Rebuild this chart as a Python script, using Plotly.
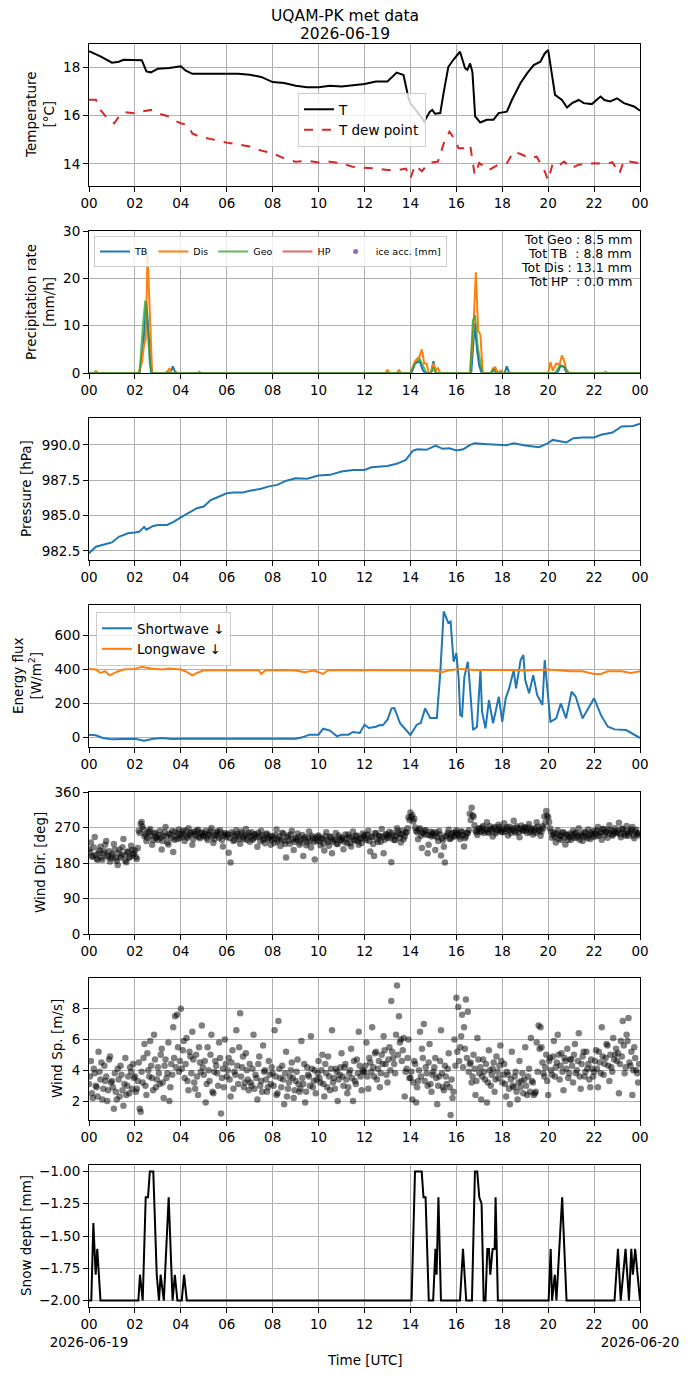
import numpy as np
import plotly.graph_objects as go

# Temperature [degC]
temp_t = [0, 0.5, 1.0, 1.3, 1.5, 2.0, 2.3, 2.5, 2.7, 3.0, 3.5, 4.0, 4.2, 4.5, 5.0, 5.5, 6.0, 6.5, 7.0, 7.5,
          8.0, 8.5, 9.0, 9.5, 10.0, 10.5, 11.0, 11.5, 12.0, 12.5, 13.0, 13.4, 13.7, 13.9, 14.0, 14.4, 14.6,
          14.85, 14.95, 15.07, 15.3, 15.43, 15.65, 15.87, 16.16, 16.38, 16.48, 16.6, 16.7, 16.82, 17.04,
          17.33, 17.62, 17.84, 18.2, 18.42, 18.79, 19.08, 19.37, 19.66, 19.85, 20.0, 20.17, 20.3, 20.6,
          20.82, 21.04, 21.33, 21.55, 21.9, 22.28, 22.45, 22.7, 23.0, 23.3, 23.74, 24.0]
temp = [18.65, 18.44, 18.18, 18.22, 18.3, 18.28, 18.28, 17.82, 17.78, 17.93, 17.96, 18.03, 17.86, 17.72,
        17.72, 17.75, 17.75, 17.72, 17.68, 17.59, 17.38, 17.34, 17.23, 17.17, 17.17, 17.23, 17.2, 17.24,
        17.3, 17.4, 17.4, 17.77, 17.67, 16.78, 16.5, 16.03, 15.75, 16.16, 16.23, 16.07, 16.1, 16.85, 18.0,
        18.3, 18.63, 17.95, 17.88, 18.15, 17.8, 15.96, 15.71, 15.82, 15.82, 16.1, 16.16, 16.64, 17.33,
        17.74, 18.08, 18.22, 18.56, 18.7, 17.6, 16.85, 16.64, 16.33, 16.51, 16.64, 16.51, 16.47, 16.78,
        16.64, 16.58, 16.71, 16.51, 16.37, 16.2]
dew_t = [0, 0.3, 0.5, 0.8, 1.1, 1.3, 1.5, 2.0, 2.3, 2.7, 3.0, 3.5, 3.8, 4.0, 4.3, 4.5, 4.8, 5.2, 5.5, 6.0,
         6.5, 7.0, 7.5, 8.0, 8.5, 9.0, 9.5, 10.0, 10.5, 11.0, 11.5, 12.0, 12.5, 13.0, 13.5, 13.8, 14.0, 14.2,
         14.5, 14.8, 15.2, 15.5, 15.7, 15.9, 16.1, 16.3, 16.6, 16.8, 17.0, 17.4, 17.8, 18.2, 18.5, 18.8,
         19.2, 19.5, 19.8, 20.0, 20.2, 20.5, 20.7, 21.0, 21.3, 21.6, 22.0, 22.5, 22.8, 23.1, 23.3, 23.6, 24.0]
dew = [16.65, 16.65, 16.23, 15.88, 15.68, 15.95, 16.14, 16.09, 16.16, 16.23, 16.09, 15.95, 15.76, 15.68,
       15.6, 15.26, 15.13, 15.06, 14.99, 14.88, 14.79, 14.72, 14.55, 14.44, 14.23, 14.09, 14.13, 14.06,
       14.09, 14.02, 13.88, 13.86, 13.81, 13.75, 13.75, 13.81, 13.4, 13.95, 13.7, 14.04, 14.1, 14.99, 15.33,
       15.06, 14.65, 14.65, 14.79, 13.55, 14.04, 13.74, 13.96, 14.03, 14.51, 14.41, 14.23, 14.3, 13.81,
       13.33, 14.03, 13.96, 14.1, 13.81, 13.96, 14.0, 14.03, 14.0, 14.07, 13.6, 14.13, 14.09, 14.03]

# Precipitation rate [mm/h]
tb_t = [0, 2.2, 2.35, 2.5, 2.6, 2.7, 3.55, 3.65, 3.75, 3.85, 14.05, 14.2, 14.4, 14.55, 14.65, 14.9, 15.0,
        15.1, 16.65, 16.8, 16.9, 17.0, 17.1, 17.55, 17.65, 17.75, 18.1, 18.2, 18.3, 20.4, 20.55, 20.7, 20.8, 24.0]
tb = [0, 0, 5, 15, 8, 0, 0, 1.4, 0.3, 0, 0, 2, 2.5, 0.5, 0, 0, 2.5, 0, 0, 10.5, 5, 1.5, 0, 0, 1.2, 0, 0,
      1.4, 0, 0, 1.6, 1.2, 0, 0]
dis_t = [0, 0.2, 0.3, 0.4, 2.15, 2.3, 2.4, 2.47, 2.55, 2.65, 2.75, 3.4, 3.5, 3.6, 4.7, 4.8, 4.9, 12.9, 13.0,
         13.1, 13.4, 13.5, 13.6, 14.0, 14.2, 14.4, 14.5, 14.6, 14.7, 14.8, 14.9, 15.0, 15.1, 15.2, 15.3, 16.6,
         16.75, 16.85, 16.95, 17.05, 17.15, 17.5, 17.6, 17.7, 17.8, 17.95, 18.05, 20.0, 20.1, 20.2, 20.35,
         20.5, 20.6, 20.7, 20.8, 20.9, 22.4, 22.5, 22.6, 24.0]
dis = [0, 0, 0.4, 0, 0, 2, 6, 7, 25, 12, 0, 0, 1, 0, 0, 0.3, 0, 0, 0.6, 0, 0, 0.6, 0, 0, 2.5, 3.5, 5, 2, 2,
       0, 0, 2, 0.5, 1, 0, 0, 10, 21.3, 9, 8, 0, 0, 1, 1.2, 0, 0.5, 0, 0, 2.3, 0.5, 2, 1.8, 3.7, 2.5, 0.5,
       0, 0, 0.3, 0, 0]
geo_t = [0, 2.2, 2.35, 2.45, 2.55, 2.65, 2.75, 3.3, 3.4, 3.5, 14.0, 14.2, 14.4, 14.6, 14.7, 14.9, 15.0, 15.1,
         16.6, 16.72, 16.82, 16.92, 17.05, 17.15, 17.5, 17.6, 17.7, 20.3, 20.5, 20.7, 20.9, 24.0]
geo = [0, 0, 10, 15.3, 10, 2, 0, 0, 0.3, 0, 0, 2, 3, 1, 0, 0, 1.2, 0, 0, 11, 12.2, 6, 2, 0, 0, 0.7, 0, 0,
       1.5, 1.4, 0, 0]
totals = [("Geo", "8.5"), ("TB\u00a0", "8.8"), ("Dis", "13.1"), ("HP\u00a0", "0.0")]

# Pressure [hPa]
pres_t = [0, 0.3, 0.7, 1.0, 1.3, 1.7, 2.0, 2.2, 2.4, 2.5, 2.8, 3.0, 3.4, 3.7, 4.0, 4.3, 4.7, 5.0, 5.3, 5.6,
          6.0, 6.3, 6.7, 7.0, 7.5, 7.8, 8.2, 8.6, 9.0, 9.5, 10.0, 10.5, 11.0, 11.5, 12.0, 12.3, 13.0, 13.4,
          13.8, 14.1, 14.3, 14.7, 15.1, 15.4, 15.7, 16.0, 16.3, 16.6, 16.8, 17.2, 17.8, 18.2, 18.5, 19.0,
          19.6, 20.0, 20.2, 20.8, 21.1, 21.5, 22.0, 22.3, 22.8, 23.2, 23.7, 24.0]
pres = [982.34, 982.8, 982.97, 983.1, 983.5, 983.75, 983.8, 983.87, 984.2, 984.0, 984.27, 984.34, 984.34,
        984.57, 984.88, 985.16, 985.52, 985.64, 986.1, 986.3, 986.58, 986.63, 986.63, 986.75, 986.9, 987.05,
        987.17, 987.47, 987.64, 987.6, 987.83, 987.88, 988.11, 988.23, 988.23, 988.42, 988.51, 988.66,
        988.94, 989.58, 989.69, 989.65, 989.95, 989.72, 989.76, 989.6, 989.69, 990.0, 990.12, 990.07,
        990.02, 989.98, 990.12, 989.95, 989.83, 990.12, 990.35, 990.17, 990.47, 990.52, 990.52, 990.71,
        990.87, 991.3, 991.34, 991.49]

# Radiation [W/m2]
sw_t = [0, 0.3, 0.6, 1.0, 2.0, 2.4, 2.8, 3.2, 3.6, 4.0, 5.0, 6.0, 7.0, 8.0, 9.0, 9.3, 9.6, 10.0, 10.1, 10.2,
        10.5, 10.8, 11.0, 11.3, 11.5, 11.8, 12.0, 12.2, 12.5, 12.67, 12.8, 13.0, 13.18, 13.3, 13.55, 13.8,
        14.0, 14.27, 14.45, 14.64, 14.86, 15.15, 15.3, 15.45, 15.55, 15.65, 15.75, 15.88, 16.0, 16.1, 16.17,
        16.25, 16.35, 16.5, 16.58, 16.73, 16.9, 17.05, 17.12, 17.27, 17.42, 17.6, 17.85, 18.0, 18.15, 18.3,
        18.5, 18.6, 18.8, 18.92, 19.0, 19.17, 19.35, 19.52, 19.75, 19.85, 19.97, 20.1, 20.35, 20.55, 20.78,
        21.02, 21.2, 21.5, 22.0, 22.3, 22.6, 22.9, 23.4, 23.77, 24.0]
sw = [16, 12, -4, -12, -8, -20, -8, -4, -10, -8, -8, -8, -10, -10, -8, 0, 16, 16, 35, 51, 40, 6, 16, 16, 32,
      26, 75, 55, 63, 73, 71, 104, 171, 173, 83, 45, 14, 73, 85, 171, 114, 114, 380, 743, 704, 675, 684,
      446, 497, 350, 131, 124, 357, 446, 320, 43, 63, 397, 151, 53, 220, 83, 240, 92, 230, 289, 397, 289,
      456, 486, 338, 260, 367, 250, 191, 456, 279, 92, 112, 200, 112, 269, 240, 112, 230, 131, 63, 47, 43,
      14, -4]
lw_t = [0, 0.3, 0.5, 0.7, 0.9, 1.2, 1.5, 2.0, 2.3, 2.7, 3.2, 3.5, 4.0, 4.2, 4.5, 4.7, 5.0, 5.5, 6.0, 6.5,
        7.0, 7.4, 7.5, 7.7, 8.5, 9.0, 9.4, 9.8, 10.2, 10.4, 11.0, 12.0, 13.0, 14.0, 14.2, 15.0, 15.4, 15.7,
        16.2, 16.8, 18.0, 19.0, 20.0, 21.0, 21.5, 22.0, 22.3, 22.6, 23.2, 23.6, 24.0]
lw = [404, 400, 380, 390, 366, 386, 400, 404, 416, 406, 400, 406, 400, 390, 366, 380, 396, 396, 400, 396,
      400, 396, 374, 396, 398, 394, 384, 394, 374, 396, 398, 398, 398, 398, 396, 394, 386, 396, 404, 398,
      398, 394, 400, 390, 390, 374, 374, 390, 390, 380, 390]

# Wind, 5-min samples on the hour grid (one row per hour)
wind_dir = [
    215, 232, 198, 246, 190, 205, 221, 188, 210, 236, 196, 184,
    203, 228, 192, 175, 214, 199, 241, 186, 208, 193, 224, 201,
    212, 190, 262, 279, 272, 248, 236, 258, 266, 226, 254, 243,
    238, 262, 214, 249, 271, 232, 255, 244, 208, 259, 240, 265,
    252, 261, 236, 247, 268, 255, 226, 259, 249, 264, 243, 257,
    248, 262, 238, 255, 269, 231, 251, 260, 244, 257, 222, 252,
    246, 206, 181, 252, 238, 263, 247, 229, 255, 241, 266, 250,
    234, 258, 243, 252, 221, 247, 262, 238, 230, 255, 244, 226,
    248, 231, 265, 240, 223, 257, 236, 194, 250, 229, 262, 213,
    243, 255, 226, 239, 198, 246, 232, 260, 219, 244, 189, 236,
    250, 225, 241, 212, 258, 233, 247, 205, 238, 256, 228, 244,
    239, 215, 252, 230, 246, 222, 260, 237, 249, 226, 241, 255,
    251, 238, 262, 209, 245, 198, 256, 233, 248, 266, 205, 252,
    244, 259, 182, 250, 238, 268, 254, 232, 262, 247, 258, 296,
    308, 301, 292, 262, 240, 268, 218, 254, 263, 205, 251, 247,
    258, 213, 245, 261, 199, 237, 181, 250, 264, 242, 256, 248,
    263, 252, 241, 259, 222, 247, 256, 305, 320, 297, 262, 251,
    268, 259, 274, 262, 283, 256, 266, 247, 271, 260, 277, 264,
    258, 281, 266, 250, 272, 263, 287, 257, 269, 245, 275, 262,
    270, 256, 279, 264, 252, 268, 283, 261, 249, 273, 298, 312,
    296, 268, 244, 257, 232, 263, 249, 238, 258, 227, 251, 246,
    239, 262, 255, 244, 268, 250, 236, 259, 247, 265, 241, 253,
    262, 248, 271, 255, 239, 266, 258, 244, 276, 261, 252, 268,
    257, 282, 245, 266, 253, 274, 249, 260, 271, 243, 264, 255,
]
wind_sp = [
    3.1, 4.6, 2.2, 3.8, 2.9, 5.2, 3.4, 2.1, 4.3, 3.6, 2.7, 4.9,
    3.3, 1.5, 2.6, 4.1, 2.3, 3.7, 1.7, 4.8, 3.0, 2.5, 3.9, 4.4,
    3.6, 2.8, 4.5, 1.3, 3.2, 5.7, 2.4, 4.0, 5.9, 3.5, 6.3, 2.9,
    4.2, 3.1, 5.4, 2.2, 4.7, 3.8, 2.0, 4.4, 6.8, 7.5, 7.6, 3.9,
    8.0, 5.3, 3.5, 6.1, 2.7, 4.9, 6.5, 3.2, 5.0, 2.4, 4.5, 6.9,
    3.7, 1.9, 5.5, 3.3, 6.3, 2.5, 4.6, 3.8, 5.8, 1.2, 4.1, 6.0,
    3.6, 4.8, 2.3, 5.3, 3.9, 6.6, 3.1, 7.7, 4.2, 2.9, 5.1, 3.4,
    4.4, 3.0, 6.3, 3.7, 2.1, 4.9, 3.3, 5.6, 4.0, 2.6, 4.6, 3.1,
    3.8, 6.6, 2.4, 7.2, 3.5, 4.3, 1.8, 5.2, 2.8, 3.6, 4.5, 2.2,
    3.3, 4.7, 2.6, 5.9, 3.1, 1.9, 4.2, 3.6, 6.2, 2.9, 4.0, 3.4,
    4.6, 3.2, 5.0, 2.3, 3.8, 4.9, 2.7, 6.6, 3.5, 4.1, 2.0, 3.7,
    5.1, 3.0, 4.4, 2.5, 3.8, 5.4, 2.0, 3.3, 4.7, 6.5, 3.6, 4.0,
    3.9, 5.8, 2.8, 4.5, 6.8, 3.6, 5.2, 4.1, 2.9, 5.0, 6.2, 4.4,
    3.2, 5.5, 8.5, 4.8, 3.8, 9.5, 7.5, 6.0, 5.3, 2.3, 4.1, 6.0,
    3.5, 2.1, 4.6, 1.9, 3.3, 6.5, 5.4, 7.0, 4.2, 3.0, 5.7, 2.6,
    3.9, 4.8, 1.8, 3.6, 6.6, 2.9, 4.3, 3.1, 5.1, 1.1, 2.2, 6.0,
    8.7, 8.1, 5.5, 7.6, 6.8, 8.6, 7.8, 4.4, 3.2, 5.0, 2.4, 6.1,
    3.8, 2.1, 4.7, 3.4, 1.9, 5.3, 3.0, 4.1, 2.6, 4.9, 3.5, 5.6,
    3.2, 4.4, 2.3, 3.7, 1.8, 5.2, 2.9, 3.9, 2.1, 4.6, 3.3, 2.5,
    5.5, 2.4, 4.1, 6.1, 3.2, 2.5, 5.8, 6.9, 6.8, 4.5, 3.6, 5.0,
    2.4, 4.8, 3.7, 5.9, 4.2, 6.3, 3.4, 5.1, 2.7, 4.6, 5.4, 3.8,
    4.7, 3.2, 5.7, 4.0, 6.4, 2.8, 4.9, 3.6, 5.2, 4.4, 2.9, 4.1,
    3.9, 5.3, 2.9, 4.5, 6.8, 3.7, 4.8, 5.6, 3.3, 4.2, 6.1, 5.0,
    4.6, 2.5, 5.9, 7.2, 3.8, 6.3, 7.4, 4.3, 2.4, 5.5, 4.0, 3.2,
]
# Wind, samples taken 2.5 min after the ones above
wind_dir_b = [
    207, 196, 219, 201, 188, 212, 194, 205, 226, 199, 210, 192,
    198, 214, 186, 205, 193, 220, 201, 182, 209, 196, 213, 204,
    195, 218, 256, 284, 265, 252, 244, 261, 249, 238, 257, 246,
    251, 244, 236, 258, 247, 227, 252, 261, 239, 248, 255, 243,
    247, 255, 262, 244, 251, 258, 240, 253, 262, 246, 256, 250,
    255, 244, 251, 261, 247, 240, 257, 250, 263, 238, 249, 256,
    252, 243, 258, 236, 249, 254, 241, 260, 245, 251, 239, 256,
    247, 239, 253, 246, 257, 235, 250, 243, 252, 240, 249, 238,
    242, 251, 235, 247, 239, 254, 228, 245, 237, 252, 241, 233,
    238, 246, 232, 251, 240, 225, 244, 236, 249, 233, 242, 247,
    236, 243, 229, 248, 238, 224, 246, 234, 240, 228, 250, 237,
    244, 233, 241, 252, 230, 245, 238, 249, 235, 243, 231, 247,
    243, 252, 236, 247, 228, 255, 240, 249, 234, 246, 239, 253,
    250, 243, 256, 238, 249, 261, 244, 253, 240, 257, 268, 289,
    296, 285, 270, 258, 264, 249, 257, 262, 251, 226, 259, 254,
    249, 257, 236, 252, 243, 221, 248, 256, 241, 253, 247, 258,
    254, 247, 260, 251, 243, 256, 263, 289, 301, 276, 258, 266,
    261, 270, 256, 266, 259, 273, 262, 268, 255, 264, 271, 259,
    266, 259, 271, 263, 256, 268, 261, 273, 258, 266, 262, 270,
    263, 270, 258, 267, 261, 256, 272, 264, 259, 268, 282, 300,
    284, 259, 252, 246, 255, 241, 250, 257, 244, 252, 238, 255,
    250, 244, 257, 249, 239, 254, 247, 256, 243, 251, 258, 246,
    255, 262, 249, 258, 266, 251, 259, 264, 254, 249, 261, 257,
    262, 253, 267, 258, 249, 261, 256, 265, 250, 259, 254, 250,
]
wind_sp_b = [
    3.6, 2.5, 4.1, 3.0, 2.3, 3.9, 4.5, 2.8, 3.3, 2.0, 4.7, 3.2,
    2.9, 3.8, 2.1, 3.4, 4.3, 2.7, 3.1, 2.4, 3.6, 4.2, 2.8, 3.5,
    2.6, 3.3, 1.5, 3.9, 4.8, 3.0, 5.1, 3.6, 4.3, 2.7, 4.7, 3.4,
    3.8, 5.0, 3.2, 4.3, 3.5, 5.8, 2.9, 3.7, 4.8, 4.2, 5.5, 4.6,
    4.1, 5.9, 4.4, 3.3, 5.2, 3.8, 4.7, 2.8, 3.6, 5.5, 3.9, 4.2,
    4.6, 3.1, 4.0, 5.0, 2.6, 3.9, 4.3, 3.0, 4.8, 3.5, 2.9, 4.4,
    4.0, 3.4, 4.5, 2.8, 3.7, 4.3, 5.5, 3.6, 4.9, 3.2, 4.0, 2.7,
    3.2, 4.1, 2.8, 3.5, 4.4, 3.0, 2.6, 3.9, 3.4, 2.9, 3.7, 4.2,
    3.0, 3.6, 2.5, 4.1, 2.9, 3.4, 3.8, 2.3, 3.2, 4.0, 3.5, 2.7,
    3.9, 3.1, 2.8, 3.5, 4.4, 2.6, 3.7, 3.0, 4.1, 3.3, 2.5, 3.8,
    3.5, 4.0, 3.1, 4.4, 2.9, 3.6, 4.1, 3.2, 2.8, 3.9, 3.4, 4.2,
    3.6, 4.2, 3.4, 2.9, 4.0, 3.5, 4.6, 3.1, 3.8, 4.3, 2.7, 3.9,
    4.3, 3.6, 4.8, 3.9, 4.2, 5.1, 3.4, 4.6, 3.8, 4.4, 5.3, 3.7,
    4.7, 4.0, 5.2, 4.4, 6.3, 5.0, 5.8, 4.6, 6.1, 3.9, 4.8, 3.5,
    3.9, 3.2, 4.4, 2.9, 4.0, 3.6, 4.8, 3.3, 3.8, 4.5, 3.1, 3.7,
    4.2, 3.5, 3.0, 4.6, 3.8, 2.7, 3.6, 4.1, 2.9, 3.4, 2.6, 4.3,
    5.2, 4.6, 6.2, 4.2, 5.4, 4.8, 3.9, 4.5, 3.6, 4.1, 3.3, 4.7,
    4.2, 3.6, 3.9, 4.4, 3.2, 4.0, 3.7, 4.5, 3.4, 3.9, 4.3, 4.6,
    3.7, 3.1, 3.9, 2.8, 3.4, 3.0, 3.6, 2.6, 3.2, 2.9, 3.8, 3.4,
    3.0, 3.6, 2.6, 3.3, 2.4, 2.6, 3.9, 5.4, 5.5, 3.8, 4.2, 3.3,
    4.6, 4.0, 4.9, 3.6, 4.5, 5.0, 4.3, 3.9, 4.8, 4.1, 3.5, 4.7,
    4.3, 5.0, 3.8, 4.6, 3.6, 4.4, 5.2, 3.9, 4.1, 3.4, 4.7, 3.6,
    4.6, 4.1, 5.2, 3.8, 4.9, 4.4, 5.7, 4.3, 5.0, 3.9, 4.7, 5.4,
    5.1, 4.4, 4.9, 5.6, 4.2, 5.9, 4.5, 5.2, 4.0, 4.8, 3.8, 4.4,
]
wind_t = np.arange(len(wind_dir)) / 12.0
wind_t_b = wind_t + 2.5 / 60.0

# Snow depth [mm]
snow_t = [0, 0.1, 0.19, 0.29, 0.36, 0.5, 2.15, 2.22, 2.34, 2.47, 2.57, 2.65, 2.8, 2.95, 3.05, 3.12, 3.26,
          3.47, 3.64, 3.74, 3.85, 4.04, 4.14, 4.26, 14.05, 14.2, 14.49, 14.57, 14.66, 14.8, 14.99, 15.09,
          15.14, 15.22, 15.33, 16.16, 16.29, 16.43, 16.68, 16.81, 16.91, 17.0, 17.1, 17.19, 17.27, 17.35,
          17.42, 17.48, 17.58, 17.67, 17.71, 17.81, 20.02, 20.11, 20.17, 20.29, 20.36, 20.61, 20.8, 22.89,
          23.04, 23.16, 23.37, 23.52, 23.62, 23.69, 23.79, 24.0]
snow = [-2.0, -2.0, -1.4, -1.8, -1.6, -2.0, -2.0, -1.8, -2.0, -1.2, -1.2, -1.0, -1.0, -1.8, -2.0, -1.8,
        -2.0, -1.2, -2.0, -1.8, -2.0, -2.0, -1.8, -2.0, -2.0, -1.0, -1.0, -1.2, -1.2, -2.0, -2.0, -1.6,
        -1.8, -1.2, -2.0, -2.0, -1.6, -2.0, -2.0, -1.0, -1.0, -1.2, -1.25, -2.0, -2.0, -1.6, -1.6, -1.8,
        -1.6, -1.6, -1.2, -2.0, -2.0, -1.6, -2.0, -1.8, -2.0, -1.2, -2.0, -2.0, -1.6, -2.0, -1.6, -2.0,
        -1.6, -1.8, -1.6, -2.0]

hour_ticks = list(range(0, 25, 2))
hour_text = ["%02d" % (h % 24) for h in hour_ticks]

FONT = "DejaVu Sans"
W, H = 690, 1377
L, R, T, B = 89, 640, 44, 1307


def px_x(x):
    return (x - L) / (R - L)


def px_y(y):
    return (B - y) / (B - T)


# (top, bottom) of each panel in pixels
panels = [(44, 186), (231, 373), (418, 560), (605, 747), (792, 934), (978, 1120), (1165, 1307)]

fig = go.Figure()

line_w = 2
fig.add_trace(go.Scatter(x=temp_t, y=temp, mode="lines", name="T",
                         line=dict(color="black", width=line_w), xaxis="x", yaxis="y"))
fig.add_trace(go.Scatter(x=dew_t, y=dew, mode="lines", name="T dew point",
                         line=dict(color="#d62728", width=line_w, dash="dash"), xaxis="x", yaxis="y"))

for name, xs, ys, col in [("TB", tb_t, tb, "#1f77b4"), ("Dis", dis_t, dis, "#ff7f0e"),
                          ("Geo", geo_t, geo, "rgba(44,160,44,0.75)")]:
    fig.add_trace(go.Scatter(x=xs, y=ys, mode="lines", name=name, legend="legend2",
                             line=dict(color=col, width=line_w), xaxis="x2", yaxis="y2"))
fig.add_trace(go.Scatter(x=[None], y=[None], mode="lines", name="HP", legend="legend2",
                         line=dict(color="rgba(214,39,40,0.7)", width=line_w), xaxis="x2", yaxis="y2"))
fig.add_trace(go.Scatter(x=[None], y=[None], mode="markers", name="ice acc. [mm]", legend="legend2",
                         marker=dict(color="#9467bd", size=5), xaxis="x2", yaxis="y2"))

fig.add_trace(go.Scatter(x=pres_t, y=pres, mode="lines", showlegend=False,
                         line=dict(color="#1f77b4", width=line_w), xaxis="x3", yaxis="y3"))

fig.add_trace(go.Scatter(x=sw_t, y=sw, mode="lines", name="Shortwave \u2193", legend="legend3",
                         line=dict(color="#1f77b4", width=line_w), xaxis="x4", yaxis="y4"))
fig.add_trace(go.Scatter(x=lw_t, y=lw, mode="lines", name="Longwave \u2193", legend="legend3",
                         line=dict(color="#ff7f0e", width=line_w), xaxis="x4", yaxis="y4"))

dots = dict(color="rgba(0,0,0,0.5)", size=6.5, line=dict(width=0))
fig.add_trace(go.Scatter(x=np.concatenate([wind_t, wind_t_b]), y=wind_dir + wind_dir_b,
                         mode="markers", showlegend=False, marker=dots, xaxis="x5", yaxis="y5"))
fig.add_trace(go.Scatter(x=np.concatenate([wind_t, wind_t_b]), y=wind_sp + wind_sp_b,
                         mode="markers", showlegend=False, marker=dots, xaxis="x6", yaxis="y6"))

fig.add_trace(go.Scatter(x=snow_t, y=snow, mode="lines", showlegend=False,
                         line=dict(color="black", width=line_w), xaxis="x7", yaxis="y7"))

axis_style = dict(showline=True, linecolor="black", linewidth=1, mirror=True, ticks="outside",
                  ticklen=5, tickwidth=1, tickcolor="black", showgrid=True, gridcolor="#b0b0b0",
                  gridwidth=1, zeroline=False, tickfont=dict(family=FONT, size=13.5, color="black"))

y_specs = [
    dict(range=[13.09, 18.95], tickvals=[14, 16, 18]),
    dict(range=[0, 30], tickvals=[0, 10, 20, 30]),
    dict(range=[981.86, 991.9], tickvals=[982.5, 985.0, 987.5, 990.0], tickformat=".1f"),
    dict(range=[-57, 781], tickvals=[0, 200, 400, 600]),
    dict(range=[0, 360], tickvals=[0, 90, 180, 270, 360]),
    dict(range=[0.77, 9.99], tickvals=[2, 4, 6, 8]),
    dict(range=[-2.05, -0.95], tickvals=[-2.0, -1.75, -1.5, -1.25, -1.0], tickformat=".2f"),
]
y_titles = [("Temperature<br>[\u00b0C]", 40), ("Precipitation rate<br>[mm/h]", 40),
            ("Pressure [hPa]", 26), ("Energy flux<br>[W/m<sup>2</sup>]", 27),
            ("Wind Dir. [deg]", 40), ("Wind Sp. [m/s]", 57), ("Snow depth [mm]", 26)]

layout = dict(
    width=W, height=H, autosize=False,
    margin=dict(l=L, r=W - R, t=T, b=H - B, pad=0),
    plot_bgcolor="white", paper_bgcolor="white",
    font=dict(family=FONT, size=13.5, color="black"),
    legend=dict(x=px_x(298), y=px_y(93), xanchor="left", yanchor="top",
                bgcolor="rgba(255,255,255,0.8)", bordercolor="#cccccc", borderwidth=1,
                font=dict(family=FONT, size=13.5), tracegroupgap=0),
    legend2=dict(x=px_x(94), y=px_y(236), xanchor="left", yanchor="top", orientation="h",
                 bgcolor="rgba(255,255,255,0.8)", bordercolor="#cccccc", borderwidth=1,
                 font=dict(family=FONT, size=9.5)),
    legend3=dict(x=px_x(96), y=px_y(612), xanchor="left", yanchor="top",
                 bgcolor="rgba(255,255,255,0.8)", bordercolor="#cccccc", borderwidth=1,
                 font=dict(family=FONT, size=13.5), tracegroupgap=0),
    showlegend=True,
)

annotations = []
for i, (top, bot) in enumerate(panels):
    n = "" if i == 0 else str(i + 1)
    ticktext = list(hour_text)
    if i == len(panels) - 1:
        ticktext[0] = "00<br>2026-06-19"
        ticktext[-1] = "00<br>2026-06-20"
    layout["xaxis" + n] = dict(axis_style, domain=[0, 1], anchor="y" + n, range=[0, 24],
                               tickvals=hour_ticks, ticktext=ticktext, tickangle=0)
    layout["yaxis" + n] = dict(axis_style, domain=[px_y(bot), px_y(top)], anchor="x" + n,
                               **y_specs[i])
    title, cx = y_titles[i]
    annotations.append(dict(text=title, x=px_x(cx), y=px_y((top + bot) / 2), xref="paper",
                            yref="paper", xanchor="center", yanchor="middle", textangle=-90,
                            showarrow=False, font=dict(family=FONT, size=13.5)))

# figure title, two lines
for k, line in enumerate(["UQAM-PK met data", "2026-06-19"]):
    annotations.append(dict(text=line, x=px_x(W / 2), y=px_y(16.5 + 17 * k), xref="paper", yref="paper",
                            xanchor="center", yanchor="middle", showarrow=False,
                            font=dict(family=FONT, size=15.5)))

for k, (lab, val) in enumerate(totals):
    annotations.append(dict(text="Tot %s : %s mm" % (lab, val), x=px_x(634), y=px_y(239.5 + 14 * k),
                            xref="paper", yref="paper", xanchor="right", yanchor="middle",
                            showarrow=False, font=dict(family=FONT, size=12.5)))

annotations.append(dict(text="Time [UTC]", x=0.5, y=px_y(1360), xref="paper", yref="paper",
                        xanchor="center", yanchor="middle", showarrow=False,
                        font=dict(family=FONT, size=13.5)))
layout["annotations"] = annotations

fig.update_layout(layout)
fig.write_html("out.html", config={"displayModeBar": False},
               post_script="document.body.style.margin = '0';")
